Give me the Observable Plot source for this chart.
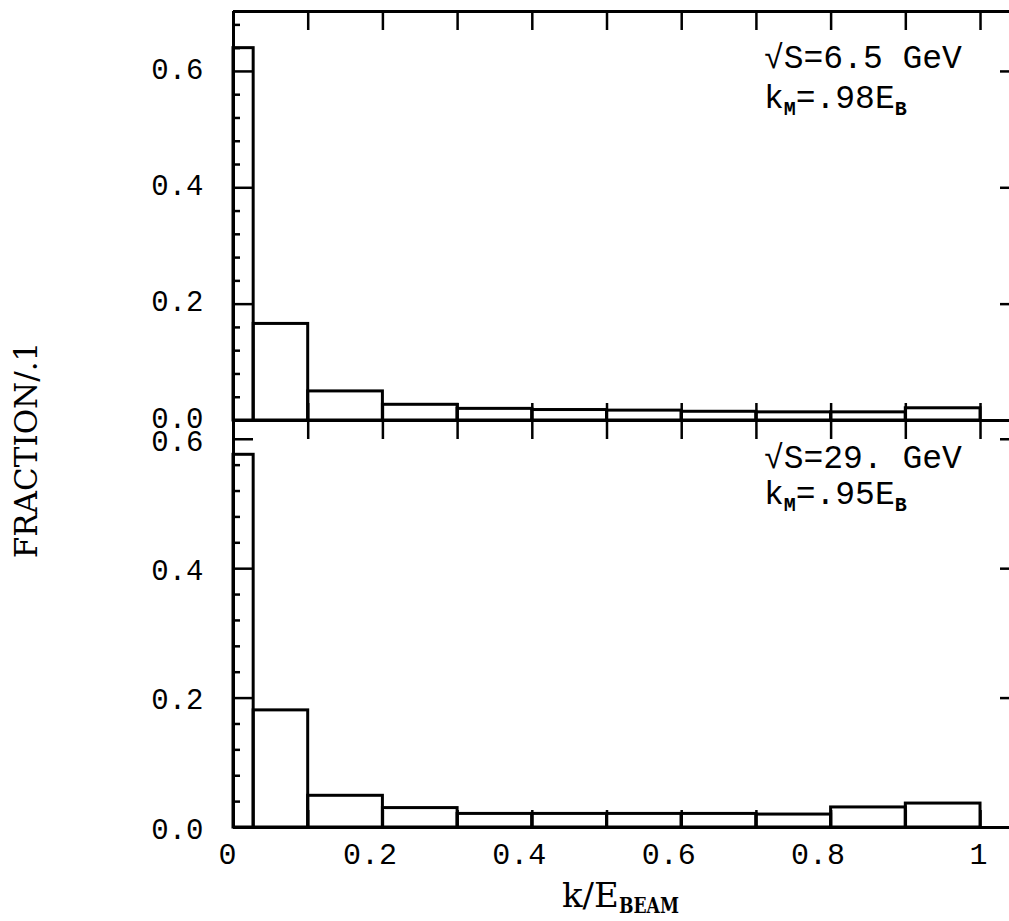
<!DOCTYPE html>
<html>
<head>
<meta charset="utf-8">
<script src="https://cdn.jsdelivr.net/npm/d3@7"></script>
<script src="https://cdn.jsdelivr.net/npm/@observablehq/plot@0.6"></script>
<style>
  html, body { margin: 0; padding: 0; background: white; }
  #wrap { position: relative; width: 1009px; height: 921px; overflow: hidden; background: white; }
  #wrap > svg { position: absolute; left: 0; }
  .lbl { position: absolute; font-family: "DejaVu Serif", "Liberation Serif", serif; color: black; white-space: nowrap; line-height: 1; }
</style>
</head>
<body>
<div id="wrap"></div>
<script>
// ---- data ----
const binStart = [0, 0.027, 0.1, 0.2, 0.3, 0.4, 0.5, 0.6, 0.7, 0.8, 0.9];
const binEnd   = [0.027, 0.1, 0.2, 0.3, 0.4, 0.5, 0.6, 0.7, 0.8, 0.9, 1.0];
const fracTop    = [0.64, 0.166, 0.05, 0.027, 0.02, 0.018, 0.017, 0.015, 0.014, 0.014, 0.021];   // sqrt(s)=6.5 GeV
const fracBottom = [0.576, 0.181, 0.049, 0.030, 0.021, 0.021, 0.021, 0.021, 0.020, 0.031, 0.037]; // sqrt(s)=29 GeV
const xTicks = [0, 0.1, 0.2, 0.3, 0.4, 0.5, 0.6, 0.7, 0.8, 0.9, 1.0];
const xLabelTicks = [0, 0.2, 0.4, 0.6, 0.8, 1.0];
const xTickLabels = ["0", "0.2", "0.4", "0.6", "0.8", "1"];
const yMajor = [0, 0.2, 0.4, 0.6];
const yTickLabels = ["0.0", "0.2", "0.4", "0.6"];
const yMinorTop = [0.04, 0.08, 0.12, 0.16, 0.24, 0.28, 0.32, 0.36, 0.44, 0.48, 0.52, 0.56, 0.64, 0.68];
const yMinorBottom = [0.04, 0.08, 0.12, 0.16, 0.24, 0.28, 0.32, 0.36, 0.44, 0.48, 0.52, 0.56];
const notesTop = ["√S=6.5 GeV", "k_M=.98E_B"];
const notesBottom = ["√S=29. GeV", "k_M=.95E_B"];
const notesX = 0.71;
const notesYTop = [0.624, 0.555];
const notesYBottom = [0.572, 0.516];

// ---- layout ----
const W = 1009, ML = 233;
const xMax = 1.0388;
const plotW = W - ML;
const SW = 3;
const tickFont = "'Liberation Mono', monospace";

function panel({values, yMax, notes, notesY, top, height, marginTop, marginBottom, showX, labelDy}) {
  const plotH = height - marginTop - marginBottom;
  const bins = values.map((v, i) => ({x1: binStart[i], x2: binEnd[i], y: v}));
  const minor = yMax > 0.65 ? yMinorTop : yMinorBottom;
  const marks = [
    Plot.rectY(bins, {x1: "x1", x2: "x2", y1: 0, y2: "y", fill: "none", stroke: "black", strokeWidth: SW}),
    Plot.ruleX([0], {stroke: "black", strokeWidth: SW}),
    Plot.ruleY([0, yMax], {stroke: "black", strokeWidth: SW}),
    // x ticks: bottom (upward) and top (downward)
    Plot.tickX(xTicks, {x: d => d, stroke: "black", strokeWidth: 2.5, insetTop: plotH - 17}),
    Plot.tickX(xTicks, {x: d => d, stroke: "black", strokeWidth: 2.5, insetBottom: plotH - 19}),
    // left y ticks
    Plot.tickY(yMajor, {y: d => d, stroke: "black", strokeWidth: 2.5, insetRight: plotW - 20}),
    Plot.tickY(minor, {y: d => d, stroke: "black", strokeWidth: 2.5, insetRight: plotW - 7}),
    // right y ticks (the right frame lies just beyond the picture)
    Plot.tickY(yMajor.filter(d => d > 0), {y: d => d, stroke: "black", strokeWidth: 2.5, insetLeft: plotW - 9}),
    Plot.axisY(yMajor, {tickSize: 0, tickPadding: 30, label: null, dy: labelDy,
      tickFormat: d => yTickLabels[yMajor.indexOf(d)],
      fontSize: 29, fontFamily: tickFont, fill: "black"}),
    Plot.text(notes, {x: notesX, y: (d, i) => notesY[i], text: d => d, textAnchor: "start", lineAnchor: "middle",
      fontSize: 33, fontFamily: tickFont, fill: "black"})
  ];
  if (showX) {
    const lab = xLabelTicks.map((x, i) => ({x, t: xTickLabels[i]}));
    const common = {x: "x", text: "t", frameAnchor: "bottom", dy: 27, lineAnchor: "middle",
      fontSize: 30, fontFamily: tickFont, fill: "black"};
    marks.push(Plot.text(lab.filter(d => d.t.length > 1), {...common, dx: -13}));
    marks.push(Plot.text(lab.filter(d => d.t === "0"), {...common, dx: -6}));
    marks.push(Plot.text(lab.filter(d => d.t === "1"), {...common, dx: -2}));
  }
  marks.push(Plot.axisX([], {label: null}));
  const svg = Plot.plot({
    width: W, height, marginTop, marginBottom, marginLeft: ML, marginRight: 0,
    x: {domain: [0, xMax]},
    y: {domain: [0, yMax]},
    style: {background: "none", overflow: "visible", color: "black"},
    marks
  });
  svg.style.top = top + "px";
  // subscripts in notes: "_X"
  const NS = "http://www.w3.org/2000/svg";
  svg.querySelectorAll("text").forEach(t => {
    const s = t.textContent;
    if (!s.includes("_")) return;
    const parts = s.split(/_(\w)/);
    t.textContent = "";
    parts.forEach((p, i) => {
      if (!p) return;
      const ts = document.createElementNS(NS, "tspan");
      ts.textContent = p;
      if (i % 2 === 1) {
        ts.setAttribute("font-size", "20");
        ts.setAttribute("font-weight", "bold");
        ts.setAttribute("dy", "7");
      } else if (i > 0) {
        ts.setAttribute("dy", "-7");
      }
      t.appendChild(ts);
    });
  });
  return svg;
}

const wrap = document.getElementById("wrap");
const topSvg = panel({values: fracTop, yMax: 0.703, notes: notesTop, notesY: notesYTop,
  top: 0, height: 460, marginTop: 11, marginBottom: 40, showX: false, labelDy: -2});
const botSvg = panel({values: fracBottom, yMax: 0.629, notes: notesBottom, notesY: notesYBottom,
  top: 400, height: 521, marginTop: 20, marginBottom: 94, showX: true, labelDy: 2});
wrap.appendChild(topSvg);
wrap.appendChild(botSvg);

// axis titles
const yl = document.createElement("div");
yl.className = "lbl";
yl.textContent = "FRACTION/.1";
yl.style.fontSize = "31px";
yl.style.left = "26px";
yl.style.top = "450px";
yl.style.transform = "translate(-50%, -50%) rotate(-90deg)";
wrap.appendChild(yl);

const xl = document.createElement("div");
xl.className = "lbl";
xl.innerHTML = "k/E<span style='display:inline-block;font-size:22px;font-weight:bold;transform:scaleX(0.78);transform-origin:left;position:relative;top:6px;margin-right:-16px'>BEAM</span>";
xl.style.fontSize = "34px";
xl.style.left = "562px";
xl.style.top = "878px";
wrap.appendChild(xl);
</script>
</body>
</html>
